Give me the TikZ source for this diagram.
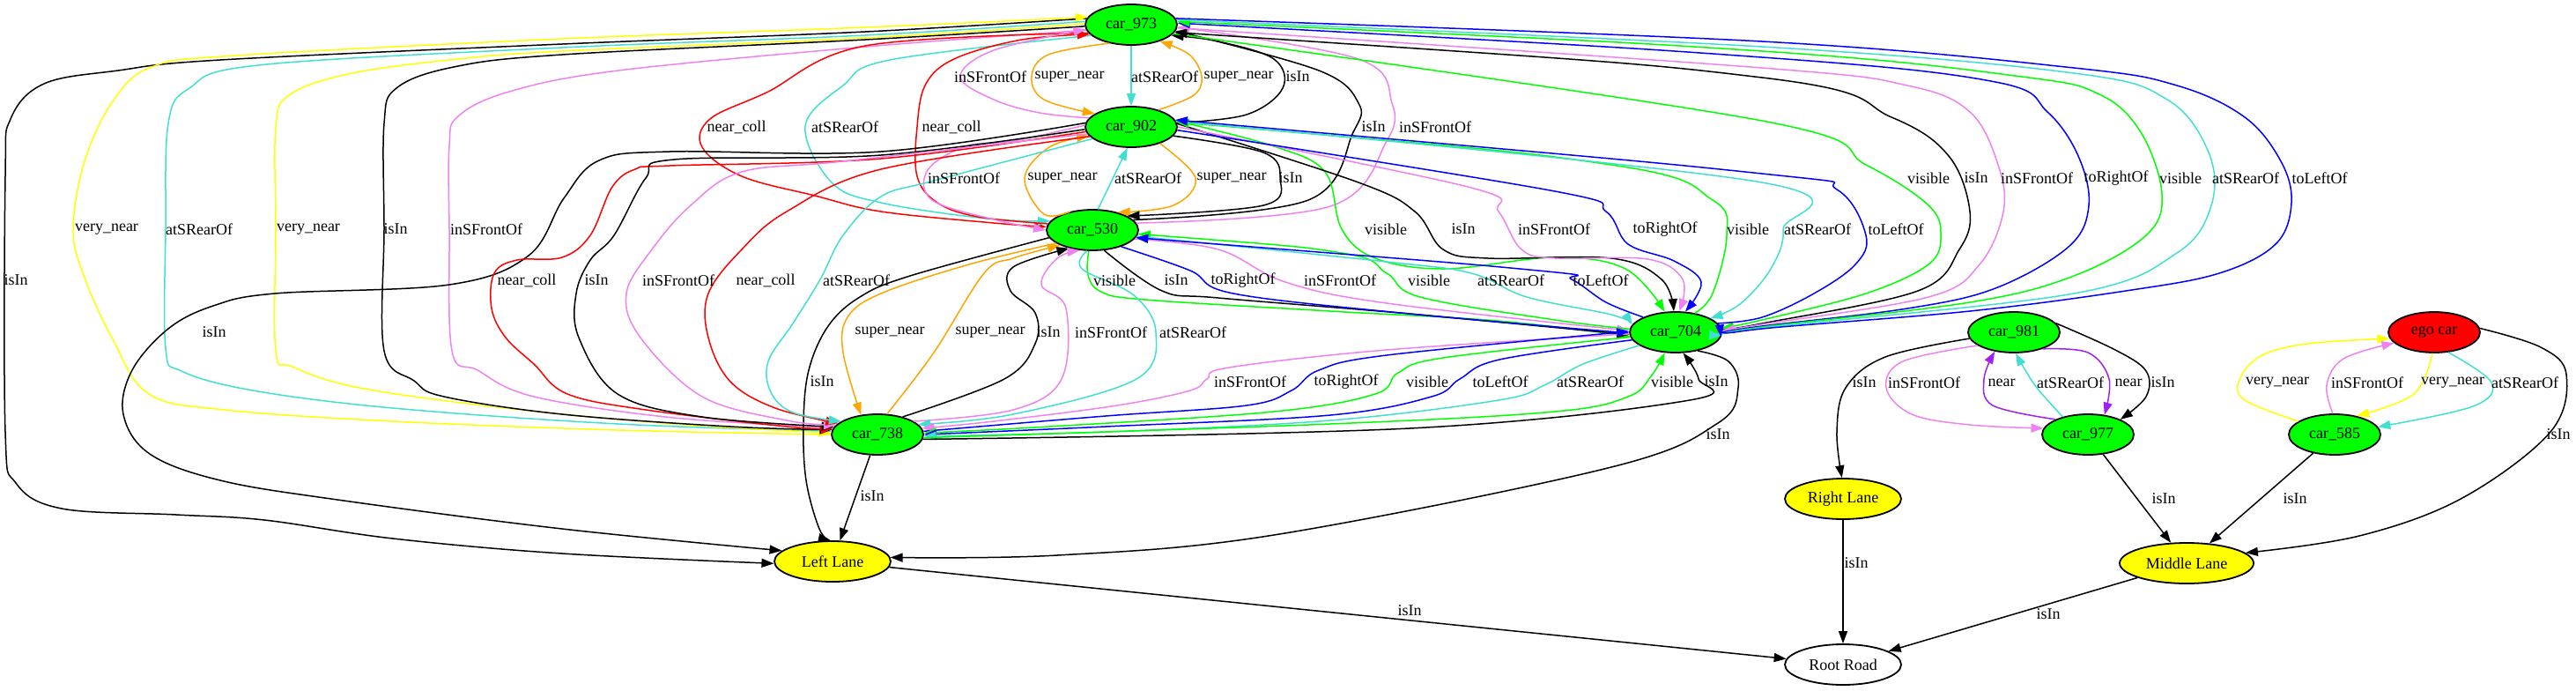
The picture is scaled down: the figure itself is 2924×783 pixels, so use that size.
\documentclass[tikz,border=0pt]{standalone}
\usepackage{fontspec}
\setmainfont{Liberation Serif}
\usetikzlibrary{shapes.geometric,arrows.meta}
\definecolor{gvgreen}{HTML}{00FF00}
\definecolor{gvyellow}{HTML}{FFFF00}
\definecolor{gvred}{HTML}{FF0000}
\definecolor{gvturq}{HTML}{40E0D0}
\definecolor{gvviolet}{HTML}{EE82EE}
\definecolor{gvorange}{HTML}{FFA500}
\definecolor{gvpurple}{HTML}{A020F0}
\definecolor{gvblue}{HTML}{0000FF}
\newcommand\gvfont{\fontsize{9}{10}\selectfont}
\tikzset{
  car/.style={ellipse,draw,line width=0.9pt,fill=gvgreen,minimum width=52pt,minimum height=23pt,inner sep=0pt,font=\gvfont},
  lane/.style={car,fill=gvyellow,minimum width=66pt},
  lbl/.style={inner sep=0pt,font=\gvfont},
  lk/.style={line width=0.75pt,smooth,tension=0.6},
  e/.style={lk,-{Triangle[length=7pt,width=5pt]}},
  eb/.style={lk,{Triangle[length=7pt,width=5pt]}-},
}
\begin{document}
\begin{tikzpicture}[x=0.5pt,y=-0.5pt]
\useasboundingbox (0,0) rectangle (2924,783);

% nodes
\node[car] (c973) at (1284,28) {car\_973};
\node[car] (c902) at (1284,144) {car\_902};
\node[car] (c530) at (1240,261) {car\_530};
\node[car] (c704) at (1902,377) {car\_704};
\node[car] (c738) at (996,493) {car\_738};
\node[car] (c981) at (2286,377) {car\_981};
\node[car] (c977) at (2370,493) {car\_977};
\node[car,fill=gvred] (ego) at (2763,377) {ego car};
\node[car] (c585) at (2650,493) {car\_585};
\node[lane] (LL) at (945,637) {Left Lane};
\node[lane] (RL) at (2092,566) {Right Lane};
\node[lane,minimum width=76pt] (ML) at (2482,639) {Middle Lane};
\node[lane,fill=white] (RR) at (2092,754) {Root Road};

% car_973, long edges on the left
\draw[e] plot coordinates {(c973.172) (982,36) (638,50) (250,68) (134,80) (50,95) (12,135) (6,200) (6,490) (18,548) (70,577) (200,584) (300,590) (446,611) (638,628) (LL.182)};
\draw[eb,gvyellow] plot coordinates {(c973.170) (982,31) (638,44) (268,63) (172,76) (128,115) (96,183) (83,260) (96,315) (128,385) (169,447) (255,465) (446,478) (702,488) (c738.180)};
\draw[e,gvturq] plot coordinates {(c973.176) (982,40) (638,54) (293,74) (215,100) (191,140) (188,260) (188,395) (206,421) (287,443) (446,463) (702,481) (c738.176)};
\draw[e,gvyellow] plot coordinates {(c973.179) (982,43) (638,58) (510,68) (395,84) (328,108) (313,145) (313,260) (313,398) (332,416) (408,440) (574,463) (765,481) (c738.178)};
\draw[e] plot coordinates {(c973.182) (982,45) (638,62) (515,76) (450,100) (436,140) (436,260) (436,398) (470,432) (504,450) (638,470) (829,484) (c738.174)};
\draw[e,gvviolet] plot coordinates {(c973.187) (995,52) (702,80) (578,104) (520,132) (510,165) (510,260) (513,398) (542,420) (606,450) (765,474) (c738.171)};
\draw[e,gvred] plot coordinates {(c973.191) (982,52) (870,105) (806,135) (797,167) (842,200) (925,222) (1000,240) (1128,253) (c530.176)};
\draw[e,gvturq] plot coordinates {(c973.195) (1010,68) (957,97) (914,143) (944,207) (1000,230) (1120,248) (c530.168)};
\draw[e,gvred] plot coordinates {(c530.172) (1110,246) (1064,230) (1041,200) (1041,144) (1051,95) (1085,66) (1160,45) (c973.193)};

% car_973 and car_902
\draw[e,gvviolet] plot coordinates {(c902.168) (1180,128) (1128,113) (1090,87) (1128,57) (c973.186)};
\draw[e,gvorange] plot coordinates {(c973.220) (1190,62) (1171,87) (1185,113) (c902.160)};
\draw[e,gvturq] (c973) -- (c902);
\draw[e,gvorange] plot coordinates {(c902.32) (1355,108) (1364,87) (1350,62) (c973.330)};
\draw[e] plot coordinates {(c902.5) (1415,130) (1456,100) (1446,67) (1383,47) (c973.345)};
\draw[e] plot coordinates {(c530.14) (1485,227) (1536,150) (1542,117) (1497,80) (c973.352)};
\draw[e,gvviolet] plot coordinates {(c530.9) (1510,234) (1574,160) (1580,117) (1542,67) (c973.357)};

% car_902 and car_530
\draw[e,gvviolet] plot coordinates {(c902.178) (1150,160) (1096,166) (1053,193) (1058,227) (1128,249) (c530.180)};
\draw[e,gvorange] plot coordinates {(c530.140) (1185,243) (1163,202) (1191,167) (c902.192)};
\draw[e,gvturq] (c530.75) -- (c902.260);
\draw[e,gvorange] plot coordinates {(c902.330) (1357,202) (1332,233) (c530.35)};
\draw[e] plot coordinates {(c902.348) (1434,173) (1453,202) (1434,233) (c530.22)};

% car_973 and car_704
\draw[e,gvgreen] plot coordinates {(c973.348) (2000,137) (2118,187) (2189,233) (2203,267) (2189,300) (2118,333) (2000,363) (c704.5)};
\draw[eb] plot coordinates {(c973.350) (2000,88) (2147,133) (2212,177) (2236,240) (2224,283) (2177,330) (2000,367) (c704.3)};
\draw[e,gvviolet] plot coordinates {(c973.356) (2000,77) (2165,97) (2236,127) (2268,187) (2274,240) (2247,300) (2189,337) (2000,368) (c704.2)};
\draw[eb,gvblue] plot coordinates {(c973.2) (2000,65) (2265,93) (2324,127) (2359,177) (2371,233) (2348,280) (2265,327) (2165,350) (2000,370) (c704.0)};
\draw[eb,gvgreen] plot coordinates {(c973.4) (2000,58) (2295,87) (2383,107) (2430,150) (2454,220) (2436,267) (2354,313) (2236,343) (2000,371) (c704.358)};
\draw[e,gvturq] plot coordinates {(c973.6) (2000,53) (2354,83) (2460,113) (2507,173) (2510,233) (2471,287) (2354,333) (2000,372) (c704.356)};
\draw[e,gvblue] plot coordinates {(c973.8) (2000,47) (2354,77) (2471,97) (2548,133) (2589,183) (2601,230) (2583,277) (2519,310) (2413,330) (2236,353) (2000,373) (c704.354)};

% car_902 and car_704
\draw[e,gvgreen] plot coordinates {(c902.8) (1446,166) (1504,195) (1523,260) (1561,293) (1640,305) (1765,292) (1845,305) (c704.118)};
\draw[e] plot coordinates {(c902.4) (1542,207) (1606,240) (1638,283) (1689,293) (1829,293) (1886,317) (c704.95)};
\draw[e,gvviolet] plot coordinates {(c902.0) (1670,213) (1701,240) (1727,283) (1765,293) (1870,294) (1910,317) (c704.80)};
\draw[e,gvblue] plot coordinates {(c902.356) (1765,217) (1823,240) (1848,277) (1900,296) (1931,320) (c704.65)};
\draw[eb,gvgreen] plot coordinates {(c902.6) (1829,187) (1944,227) (1960,267) (1944,333) (c704.45)};
\draw[e,gvturq] plot coordinates {(c902.7) (2000,207) (2024,260) (2010,305) (1975,345) (c704.22)};
\draw[eb,gvblue] plot coordinates {(c902.9) (2000,197) (2085,215) (2118,267) (2106,300) (2059,333) (2000,360) (c704.12)};

% car_530 and car_704
\draw[e,gvgreen] plot coordinates {(c530.260) (1235,312) (1250,331) (1300,340) (1510,353) (1700,364) (c704.185)};
\draw[e] plot coordinates {(c530.300) (1319,330) (1383,338) (1600,356) (c704.183)};
\draw[e,gvblue] plot coordinates {(c530.330) (1351,307) (1400,333) (1600,356) (c704.181)};
\draw[e,gvviolet] plot coordinates {(c530.348) (1383,283) (1459,320) (1574,344) (c704.178)};
\draw[eb,gvgreen] plot coordinates {(c530.355) (1523,287) (1574,310) (1612,337) (1765,363) (c704.176)};
\draw[e,gvturq] plot coordinates {(c530.352) (1574,297) (1670,310) (1733,337) (1829,357) (c704.170)};
\draw[eb,gvblue] plot coordinates {(c530.350) (1746,307) (1784,317) (1823,343) (c704.155)};

% car_530 and car_738
\draw[e,gvorange] plot coordinates {(c530.200) (1100,300) (1000,333) (962,360) (957,400) (c738.130)};
\draw[e,gvorange] plot coordinates {(c738.65) (1060,400) (1117,310) (1150,293) (c530.205)};
\draw[e] plot coordinates {(c738.35) (1140,430) (1175,390) (1175,355) (1147,330) (1150,303) (c530.218)};
\draw[e,gvviolet] plot coordinates {(c738.20) (1150,465) (1205,430) (1210,350) (1182,323) (1200,293) (c530.238)};
\draw[e,gvturq] plot coordinates {(c530.255) (1228,305) (1287,335) (1312,377) (1290,430) (1150,470) (c738.14)};
\draw[e] plot coordinates {(c530.190) (1033,313) (976,337) (940,370) (918,420) (912,480) (915,545) (930,600) (LL.95)};
\draw[e] (c738) -- (LL);

% car_902 to car_738 and Left Lane
\draw[e] plot coordinates {(c902.175) (1000,172) (760,172) (680,182) (640,225) (600,290) (510,323) (312,333) (242,347) (191,373) (150,420) (140,470) (170,515) (250,545) (383,567) (638,600) (LL.168)};
\draw[e,gvred] plot coordinates {(c902.186) (1000,180) (760,188) (721,192) (695,212) (670,267) (638,292) (587,295) (561,310) (558,350) (574,383) (606,413) (644,447) (733,465) (893,484) (c738.172)};
\draw[e] plot coordinates {(c902.183) (1000,176) (765,181) (733,202) (697,267) (670,295) (654,333) (657,383) (701,447) (797,473) (c738.170)};
\draw[e,gvviolet] plot coordinates {(c902.189) (957,183) (842,195) (784,233) (740,283) (711,333) (727,383) (797,450) (893,477) (c738.167)};
\draw[e,gvred] plot coordinates {(c902.193) (1000,192) (893,240) (842,283) (804,333) (804,383) (829,433) (880,463) (c738.164)};
\draw[e,gvturq] plot coordinates {(c902.197) (1060,205) (1000,223) (957,267) (931,317) (900,367) (872,410) (875,445) (900,468) (c738.160)};

% car_704 and car_738
\draw[e,gvviolet] plot coordinates {(c704.182) (1574,397) (1395,417) (1370,430) (1351,443) (1268,460) (1128,478) (c738.8)};
\draw[e,gvblue] plot coordinates {(c738.4) (1255,472) (1415,460) (1466,443) (1497,420) (1574,403) (c704.179)};
\draw[e,gvgreen] plot coordinates {(c704.186) (1638,406) (1587,423) (1561,447) (1446,467) (1191,484) (c738.2)};
\draw[e,gvblue] plot coordinates {(c704.190) (1702,408) (1657,430) (1625,450) (1510,471) (1255,484) (c738.0)};
\draw[e,gvturq] plot coordinates {(c704.200) (1797,413) (1753,437) (1701,454) (1510,477) (1255,490) (c738.358)};
\draw[e,gvgreen] plot coordinates {(c738.356) (1510,481) (1765,467) (1848,450) (1874,427) (c704.242)};
\draw[e] plot coordinates {(c738.354) (1600,486) (1918,454) (1928,430) (c704.290)};
\draw[e] plot coordinates {(c704.320) (1962,410) (1973,440) (1950,480) (1829,530) (1446,607) (1200,630) (LL.4)};
\draw[e] (LL) -- (RR);

% right part
\draw[e] plot coordinates {(c981.188) (2140,405) (2095,440) (2085,490) (RL.93)};
\draw[e,gvviolet] plot coordinates {(c981.200) (2160,410) (2141,440) (2170,470) (2236,482) (c977.172)};
\draw[e,gvpurple] plot coordinates {(c977.155) (2262,460) (2252,430) (c981.225)};
\draw[e,gvturq] plot coordinates {(c977.145) (2312,440) (2296,415) (c981.275)};
\draw[e,gvpurple] plot coordinates {(c981.330) (2370,400) (2394,430) (c977.50)};
\draw[e] plot coordinates {(c981.12) (2401,397) (2436,421) (2436,450) (c977.25)};
\draw[e] (c977) -- (ML);
\draw[e,gvyellow] plot coordinates {(c585.160) (2548,454) (2542,431) (2566,404) (2619,390) (ego.188)};
\draw[e,gvviolet] plot coordinates {(c585.95) (2641,437) (2660,407) (ego.195)};
\draw[e,gvyellow] plot coordinates {(ego.265) (2740,447) (c585.40)};
\draw[e,gvturq] plot coordinates {(ego.305) (2828,434) (2807,461) (c585.10)};
\draw[e] plot coordinates {(ego.5) (2884,394) (2913,425) (2895,490) (2795,565) (2678,608) (ML.10)};
\draw[e] (c585) -- (ML);
\draw[e] (RL) -- (RR);
\draw[e] (ML) -- (RR);

% edge labels
\node[lbl] (t1) at (1124,87) {inSFrontOf};
\node[lbl] (t2) at (1214,87) {super\_near};
\node[lbl] (t3) at (1322,87) {atSRearOf};
\node[lbl] (t4) at (1406,87) {super\_near};
\node[lbl] (t5) at (1473,87) {isIn};
\node[lbl] (t6) at (836,144) {near\_coll};
\node[lbl] (t7) at (959,144) {atSRearOf};
\node[lbl] (t8) at (1080,144) {near\_coll};
\node[lbl] (t9) at (1559,144) {isIn};
\node[lbl] (t10) at (1629,144) {inSFrontOf};
\node[lbl] (t11) at (1094,202) {inSFrontOf};
\node[lbl] (t12) at (1206,202) {super\_near};
\node[lbl] (t13) at (1303,202) {atSRearOf};
\node[lbl] (t14) at (1398,202) {super\_near};
\node[lbl] (t15) at (1465,202) {isIn};
\node[lbl] (t16) at (2189,202) {visible};
\node[lbl] (t17) at (2243,202) {isIn};
\node[lbl] (t18) at (2312,202) {inSFrontOf};
\node[lbl] (t19) at (2402,202) {toRightOf};
\node[lbl] (t20) at (2475,202) {visible};
\node[lbl] (t21) at (2549,202) {atSRearOf};
\node[lbl] (t22) at (2633,202) {toLeftOf};
\node[lbl] (t23) at (121,260) {very\_near};
\node[lbl] (t24) at (226,260) {atSRearOf};
\node[lbl] (t25) at (350,260) {very\_near};
\node[lbl] (t26) at (449,260) {isIn};
\node[lbl] (t27) at (552,260) {inSFrontOf};
\node[lbl] (t28) at (1573,260) {visible};
\node[lbl] (t29) at (1661,260) {isIn};
\node[lbl] (t30) at (1764,260) {inSFrontOf};
\node[lbl] (t31) at (1890,260) {toRightOf};
\node[lbl] (t32) at (1984,260) {visible};
\node[lbl] (t33) at (2063,260) {atSRearOf};
\node[lbl] (t34) at (2152,260) {toLeftOf};
\node[lbl] (t35) at (18,318) {isIn};
\node[lbl] (t36) at (598,318) {near\_coll};
\node[lbl] (t37) at (677,318) {isIn};
\node[lbl] (t38) at (770,318) {inSFrontOf};
\node[lbl] (t39) at (869,318) {near\_coll};
\node[lbl] (t40) at (972,318) {atSRearOf};
\node[lbl] (t41) at (1265,318) {visible};
\node[lbl] (t42) at (1335,318) {isIn};
\node[lbl] (t43) at (1411,318) {toRightOf};
\node[lbl] (t44) at (1521,318) {inSFrontOf};
\node[lbl] (t45) at (1622,318) {visible};
\node[lbl] (t46) at (1715,318) {atSRearOf};
\node[lbl] (t47) at (1817,318) {toLeftOf};
\node[lbl] (t48) at (243,377) {isIn};
\node[lbl] (t49) at (1010,377) {super\_near};
\node[lbl] (t50) at (1124,377) {super\_near};
\node[lbl] (t51) at (1190,377) {isIn};
\node[lbl] (t52) at (1261,377) {inSFrontOf};
\node[lbl] (t53) at (1354,377) {atSRearOf};
\node[lbl] (t54) at (933,433) {isIn};
\node[lbl] (t55) at (1419,433) {inSFrontOf};
\node[lbl] (t56) at (1528,433) {toRightOf};
\node[lbl] (t57) at (1620,433) {visible};
\node[lbl] (t58) at (1703,433) {toLeftOf};
\node[lbl] (t59) at (1805,433) {atSRearOf};
\node[lbl] (t60) at (1898,433) {visible};
\node[lbl] (t61) at (1948,433) {isIn};
\node[lbl] (t62) at (2116,434) {isIn};
\node[lbl] (t63) at (2184,434) {inSFrontOf};
\node[lbl] (t64) at (2272,434) {near};
\node[lbl] (t65) at (2350,434) {atSRearOf};
\node[lbl] (t66) at (2416,434) {near};
\node[lbl] (t67) at (2455,434) {isIn};
\node[lbl] (t68) at (2585,434) {very\_near};
\node[lbl] (t69) at (2687,434) {inSFrontOf};
\node[lbl] (t70) at (2784,434) {very\_near};
\node[lbl] (t71) at (2866,434) {atSRearOf};
\node[lbl] (t72) at (1950,493) {isIn};
\node[lbl] (t73) at (2904,493) {isIn};
\node[lbl] (t74) at (990,563) {isIn};
\node[lbl] (t75) at (2456,566) {isIn};
\node[lbl] (t76) at (2605,566) {isIn};
\node[lbl] (t77) at (2107,639) {isIn};
\node[lbl] (t78) at (1600,693) {isIn};
\node[lbl] (t79) at (2325,697) {isIn};
\end{tikzpicture}
\end{document}
